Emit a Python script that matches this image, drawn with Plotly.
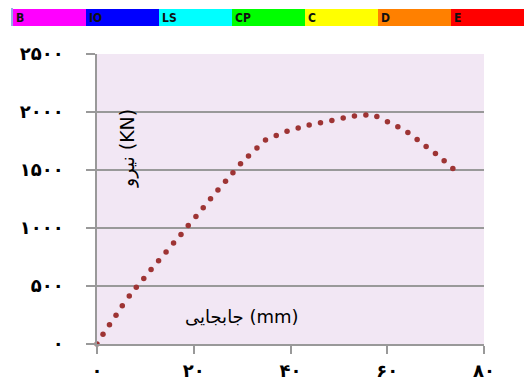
import plotly.graph_objects as go

# ---- data ----
displacement_mm = [0, 1.24, 2.58, 3.93, 5.23, 6.67, 8.12, 9.67, 11.18, 12.73, 14.28,
                   15.83, 17.36, 18.86, 20.45, 21.96, 23.47, 25.0, 26.57, 28.1, 29.67,
                   31.32, 33.06, 34.83, 37.05, 39.28, 41.59, 43.86, 46.2, 48.55, 50.89,
                   53.22, 55.58, 57.85, 60.04, 62.19, 64.26, 66.18, 68.04, 69.96, 71.76, 73.56]
force_kn = [0, 84, 166, 248, 330, 414, 490, 565, 642, 718, 794,
            871, 945, 1022, 1100, 1175, 1252, 1327, 1402, 1477, 1554,
            1621, 1690, 1758, 1798, 1834, 1862, 1888, 1908, 1927, 1948,
            1965, 1974, 1961, 1916, 1873, 1824, 1764, 1703, 1643, 1580, 1514]

x_tickvals = [0, 20, 40, 60, 80]
x_ticktext = ["۰", "۲۰", "۴۰", "۶۰", "۸۰"]
y_tickvals = [0, 500, 1000, 1500, 2000, 2500]
y_ticktext = ["۰", "۵۰۰", "۱۰۰۰", "۱۵۰۰", "۲۰۰۰", "۲۵۰۰"]

level_labels = ["B", "IO", "LS", "CP", "C", "D", "E"]
level_colors = ["#FF00FF", "#0000FF", "#00FFFF", "#00FF00", "#FFFF00", "#FF8000", "#FF0000"]

x_title = "جابجایی (mm)"
y_title = "نیرو (KN)"

# ---- layout geometry (pixels) ----
W, H = 531, 385
ML, MR, MT, MB = 97, 47, 54, 41
PW = W - ML - MR
PH = H - MT - MB


def px2paper_x(px):
    return (px - ML) / PW


def px2paper_y(py):
    return (H - MB - py) / PH


fig = go.Figure()
fig.add_trace(go.Scatter(
    x=displacement_mm, y=force_kn, mode="markers",
    marker=dict(size=5.5, color="#9E3434"),
    cliponaxis=False, showlegend=False, hoverinfo="skip"))

shapes = []
annotations = []
seg_x0, seg_w, seg_y0, seg_y1 = 13, 73, 9, 26
for i, (lab, col) in enumerate(zip(level_labels, level_colors)):
    x0 = seg_x0 + i * seg_w
    shapes.append(dict(type="rect", xref="paper", yref="paper",
                       x0=px2paper_x(x0), x1=px2paper_x(x0 + seg_w),
                       y0=px2paper_y(seg_y1), y1=px2paper_y(seg_y0),
                       fillcolor=col, line=dict(width=0), layer="above"))
    annotations.append(dict(text="<b>" + lab + "</b>", xref="paper", yref="paper",
                            x=px2paper_x(x0 + 1), y=px2paper_y(17.5),
                            xanchor="left", yanchor="middle", showarrow=False,
                            font=dict(family="DejaVu Sans Condensed, DejaVu Sans", size=12, color="#111111")))
shapes.append(dict(type="line", xref="paper", yref="paper",
                   x0=px2paper_x(12), x1=px2paper_x(12),
                   y0=px2paper_y(26), y1=px2paper_y(8),
                   line=dict(color="#3355CC", width=1)))

annotations.append(dict(text=y_title, xref="paper", yref="paper",
                        x=px2paper_x(127), y=px2paper_y(149), textangle=-90,
                        xanchor="center", yanchor="middle", showarrow=False,
                        font=dict(family="DejaVu Sans", size=19, color="#000000")))
annotations.append(dict(text=x_title, xref="paper", yref="paper",
                        x=px2paper_x(242), y=px2paper_y(316),
                        xanchor="center", yanchor="middle", showarrow=False,
                        font=dict(family="DejaVu Sans", size=18, color="#000000")))

tick_font = dict(family="DejaVu Sans", size=18, color="#000000", weight="bold")

fig.update_layout(
    width=W, height=H,
    margin=dict(l=ML, r=MR, t=MT, b=MB, pad=0, autoexpand=False),
    paper_bgcolor="white", plot_bgcolor="#F2E7F4",
    shapes=shapes, annotations=annotations,
    xaxis=dict(range=[0, 80], tickvals=x_tickvals, ticktext=x_ticktext,
               showgrid=False, zeroline=False, showline=True, automargin=False,
               linecolor="#999999", linewidth=1.5,
               ticks="outside", ticklen=8, tickwidth=1.5, tickcolor="#999999",
               ticklabelstandoff=2,
               tickfont=tick_font),
    yaxis=dict(range=[0, 2500], tickvals=y_tickvals, ticktext=y_ticktext,
               showgrid=True, gridcolor="#999999", gridwidth=1.5,
               zeroline=False, showline=True, automargin=False,
               linecolor="#999999", linewidth=1.5,
               ticks="outside", ticklen=9, tickwidth=1.5, tickcolor="#999999",
               ticklabelstandoff=19,
               tickfont=tick_font),
)

fig.write_html("out.html")
